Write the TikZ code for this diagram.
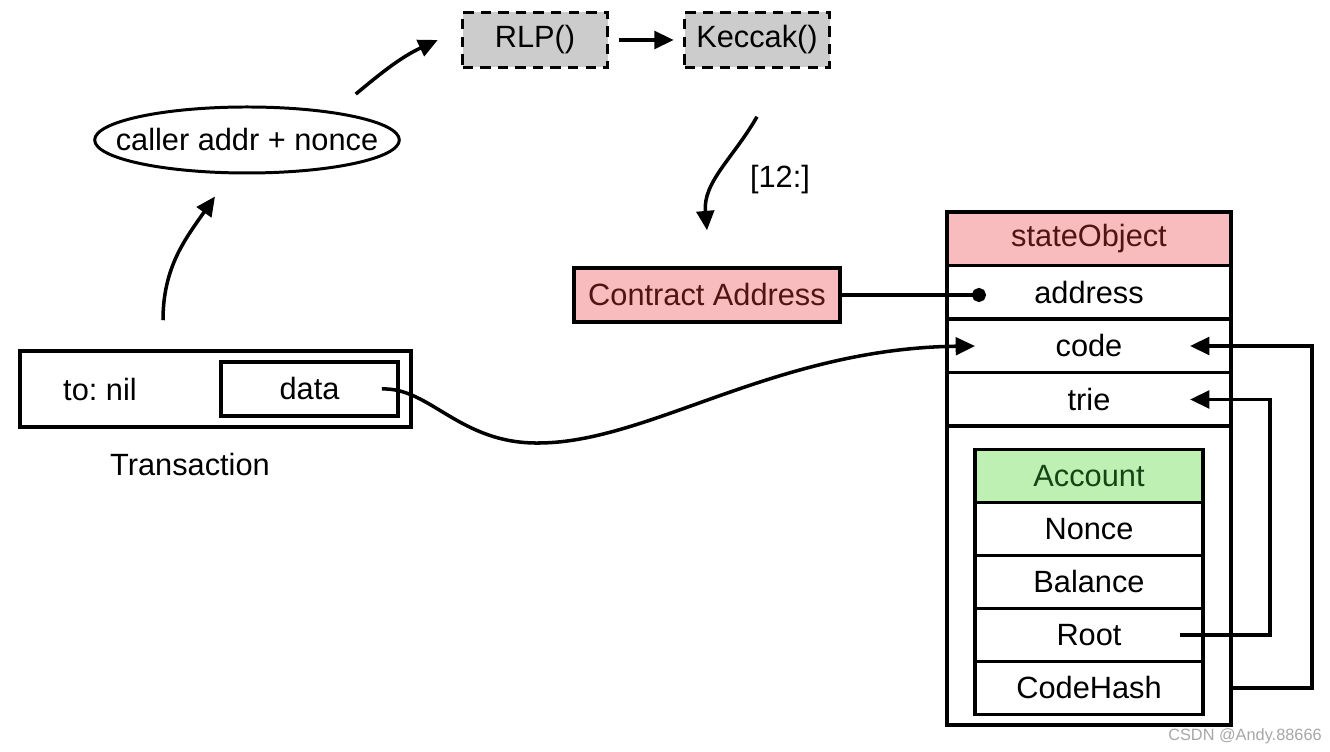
\documentclass[tikz,border=0pt]{standalone}
\usepackage{fontspec}
\setmainfont{Liberation Sans}
\usepackage{tikz}
\usetikzlibrary{shapes.geometric,arrows.meta}
\definecolor{boxpink}{RGB}{248,188,190}
\definecolor{boxgreen}{RGB}{190,240,180}
\definecolor{boxgray}{RGB}{204,204,204}
\definecolor{pinktext}{RGB}{80,20,20}
\definecolor{greentext}{RGB}{20,70,20}
\frenchspacing

\begin{document}
\begin{tikzpicture}[font=\fontsize{17.5}{21}\selectfont,
  box/.style={draw,line width=2pt,inner sep=0pt},
  row/.style={box,minimum width=5.68cm,minimum height=1.07cm},
  accrow/.style={box,minimum width=4.56cm,minimum height=1.06cm},
  fnbox/.style={box,fill=boxgray,dash pattern=on 6pt off 4pt,minimum width=2.9cm,minimum height=1.1cm},
  arr/.style={line width=2pt,-{Triangle[length=11pt,width=10pt]}}]

\useasboundingbox (0,0) rectangle (26.6,15.04);

\node[fnbox] (rlp) at (10.7,14.24) {RLP()};
\node[fnbox] (keccak) at (15.14,14.24) {Keccak()};
\node[draw,ellipse,line width=1.7pt,inner xsep=-0.47cm,minimum height=1.32cm] (caller) at (4.94,12.24) {caller addr + nonce};
\node[box,fill=boxpink,text=pinktext,minimum width=5.32cm,minimum height=1.08cm] (contract) at (14.14,9.14) {Contract Address};
\node at (15.6,11.44) {[12:]};

\node[box,minimum width=7.82cm,minimum height=1.52cm] (tx) at (4.31,7.26) {};
\node (tonil) at (2.0,7.24) {to: nil};
\node[box,minimum width=3.54cm,minimum height=1.08cm] (data) at (6.19,7.26) {data};
\node (txlabel) at (3.8,5.74) {Transaction};

\node[box,minimum width=5.68cm,minimum height=10.26cm] (state) at (21.78,5.67) {};
\node[row,fill=boxpink,text=pinktext] (head) at (21.78,10.26) {stateObject};
\node[row] (addr) at (21.78,9.19) {address};
\node[row] (code) at (21.78,8.12) {code};
\node[row] (trie) at (21.78,7.05) {trie};

\node[accrow,fill=boxgreen,text=greentext] (acc) at (21.78,5.52) {Account};
\node[accrow] (nonce) at (21.78,4.46) {Nonce};
\node[accrow] (balance) at (21.78,3.40) {Balance};
\node[accrow] (root) at (21.78,2.34) {Root};
\node[accrow] (hash) at (21.78,1.28) {CodeHash};

\node[text=black!35,font=\fontsize{9.3}{11}\selectfont] (mark) at (24.9,0.32) {CSDN @Andy.88666};

\draw[arr,shorten <=0.2cm,shorten >=0.18cm] (rlp.east) -- (keccak.west);
\draw[arr] ([xshift=-1.05cm,yshift=0.58cm]tx.north) to[out=90,in=235] ([xshift=-0.64cm,yshift=-0.44cm]caller.south);
\draw[arr] ([yshift=0.43cm]caller.north east) to[out=40,in=205] ([xshift=-0.46cm]rlp.west);
\draw[arr] ([yshift=-0.95cm]keccak.south) to[out=240,in=95] ([yshift=0.72cm]contract.north);

\draw[line width=2pt,-{Circle[length=8pt]}] (contract.east) -- ([xshift=-2.06cm]addr.center |- contract.east);

\draw[arr] ([xshift=-0.36cm]data.east) .. controls (8.6,7.3) and (9.2,6.15) .. (10.8,6.18)
  .. controls (13,6.2) and (15.5,8.07) .. ([xshift=-2.28cm]code.center);

\draw[arr] (state.east |- hash) -- (26.24,0 |- hash) -- (26.24,0 |- code) -- ([xshift=2.02cm]code.center);
\draw[arr] ([xshift=1.82cm]root.center) -- (25.4,0 |- root) -- (25.4,0 |- trie) -- ([xshift=2.02cm]trie.center);

\end{tikzpicture}
\end{document}
